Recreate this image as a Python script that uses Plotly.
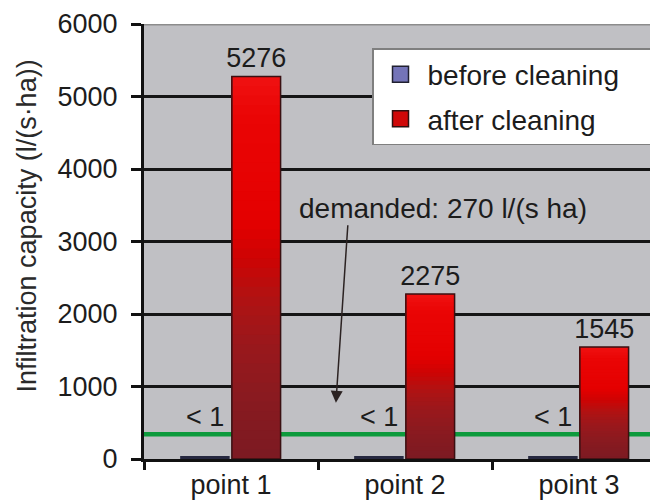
import plotly.graph_objects as go

# ---------------- data ----------------
categories = ["point 1", "point 2", "point 3"]
before_cleaning = [0.5, 0.5, 0.5]          # reported as "< 1"
before_labels = ["< 1", "< 1", "< 1"]
after_cleaning = [5276, 2275, 1545]
after_labels = ["5276", "2275", "1545"]
demand_line_value = 340                     # where the green line is drawn
demand_text = "demanded: 270 l/(s ha)"
y_tick_values = [0, 1000, 2000, 3000, 4000, 5000, 6000]
y_title = "Infiltration capacity (l/(s\u00b7ha))"
series_names = ["before cleaning", "after cleaning"]

# ---------------- style ----------------
FONT = "Liberation Sans, Arial, Helvetica, sans-serif"
TXT = "#1c1c1c"
BAR_W = 0.28
BLUE_OFF = -0.29
RED_OFF = 0.005
PAD = "\u00a0\u00a0\u00a0\u00a0"   # right padding inside legend box

# red gradient stops: fraction from top of bar -> colour
grad_stops = [
    (0.00, (240, 18, 18)),
    (0.10, (234, 5, 5)),
    (0.38, (228, 0, 0)),
    (0.48, (204, 4, 4)),
    (0.58, (176, 18, 18)),
    (0.70, (154, 24, 28)),
    (0.85, (136, 26, 32)),
    (1.00, (124, 26, 34)),
]


def grad_color(t):
    for (t0, c0), (t1, c1) in zip(grad_stops[:-1], grad_stops[1:]):
        if t0 <= t <= t1:
            f = (t - t0) / (t1 - t0) if t1 > t0 else 0
            c = [round(a + (b - a) * f) for a, b in zip(c0, c1)]
            return "rgb(%d,%d,%d)" % tuple(c)
    return "rgb(%d,%d,%d)" % grad_stops[-1][1]


fig = go.Figure()

# before cleaning bars (tiny)
fig.add_trace(go.Bar(
    x=categories, y=before_cleaning, name=series_names[0],
    offset=BLUE_OFF + 0.015, width=BAR_W - 0.03,
    marker=dict(color="#2a2c48", line=dict(color="#262840", width=6)),
    showlegend=False, hoverinfo="skip",
))

# after cleaning bars, drawn as stacked gradient layers
N = 40
for k in range(N):
    frac = k / N
    t_from_top = 1 - (k + 0.5) / N
    fig.add_trace(go.Bar(
        x=categories,
        base=[v * frac for v in after_cleaning],
        y=[v * (1 - frac) for v in after_cleaning],
        offset=RED_OFF, width=BAR_W,
        marker=dict(color=grad_color(t_from_top), line=dict(width=0)),
        showlegend=False, hoverinfo="skip",
    ))

# outline + value labels
fig.add_trace(go.Bar(
    x=categories, y=after_cleaning, name=series_names[1],
    offset=RED_OFF, width=BAR_W,
    marker=dict(color="rgba(0,0,0,0)", line=dict(color="#3a1012", width=1.5)),
    text=after_labels, textposition="outside", constraintext="none",
    textfont=dict(family=FONT, size=27, color=TXT),
    cliponaxis=False, showlegend=False, hoverinfo="skip",
))

# legend entries
fig.add_trace(go.Scatter(
    x=[None], y=[None], mode="markers", name=series_names[0] + PAD,
    legendgroup="a",
    marker=dict(symbol="square", size=16, color="#7474b8",
                line=dict(color="#202030", width=1.5)),
))
fig.add_trace(go.Scatter(
    x=[None], y=[None], mode="markers", name=series_names[1] + PAD,
    legendgroup="b",
    marker=dict(symbol="square", size=16, color="#d00808",
                line=dict(color="#301010", width=1.5)),
))

annotations = []
for i, (v, lab) in enumerate(zip(before_cleaning, before_labels)):
    annotations.append(dict(
        x=i + BLUE_OFF + BAR_W / 2, y=v, xref="x", yref="y",
        text=lab, showarrow=False, yanchor="bottom", xanchor="center",
        yshift=25, font=dict(family=FONT, size=27, color=TXT),
    ))

annotations.append(dict(
    x=0.379, y=3458, xref="x", yref="y", text=demand_text,
    showarrow=False, xanchor="left", yanchor="middle",
    font=dict(family=FONT, size=28, color=TXT),
))
annotations.append(dict(
    x=0.603, y=775, xref="x", yref="y", text="",
    showarrow=True, ax=12, ay=-179, axref="pixel", ayref="pixel",
    arrowhead=2, arrowsize=1.6, arrowwidth=1.5, arrowcolor="#2b2222",
    standoff=0,
))
annotations.append(dict(
    x=-0.2276, y=0.5346, xref="paper", yref="paper", text=y_title,
    textangle=-90, showarrow=False, xanchor="center", yanchor="middle",
    font=dict(family=FONT, size=27, color="#2a2a2a"),
))

shapes = [
    dict(type="line", xref="paper", x0=0, x1=1, yref="y",
         y0=demand_line_value, y1=demand_line_value,
         line=dict(color="#0d9a3c", width=4.5), layer="below"),
    dict(type="line", xref="paper", x0=0, x1=1, yref="y",
         y0=6000, y1=6000, line=dict(color="#8c8c8c", width=3), layer="above"),
]

# page body adds an 8px offset; figure size/margins compensate for it
fig.update_layout(
    width=650, height=492,
    margin=dict(l=136, r=0, t=16, b=34),
    paper_bgcolor="white", plot_bgcolor="#c0c0c4",
    barmode="overlay",
    font=dict(family=FONT, size=27, color=TXT),
    showlegend=True,
    legend=dict(
        x=0.4436, y=0.9447, xanchor="left", yanchor="top",
        bgcolor="white", bordercolor="#7f7f7f", borderwidth=1.5,
        font=dict(family=FONT, size=28, color=TXT),
        itemsizing="trace", itemwidth=44, tracegroupgap=5,
    ),
    annotations=annotations,
    shapes=shapes,
    xaxis=dict(
        type="category", categoryorder="array", categoryarray=categories,
        range=[-0.5, -0.5 + 514 / 174], autorange=False,
        tickson="boundaries", ticks="outside", ticklen=8, tickwidth=2.5,
        tickcolor="#111", showgrid=False, showline=True, linecolor="#111",
        linewidth=3, tickfont=dict(family=FONT, size=27, color=TXT),
        zeroline=False, fixedrange=True,
    ),
    yaxis=dict(
        range=[0, 6000], autorange=False, tickvals=y_tick_values,
        ticks="outside", ticklen=10, tickwidth=2.5, tickcolor="#111",
        showgrid=True, gridcolor="#151515", gridwidth=2.5,
        showline=True, linecolor="#111", linewidth=3, zeroline=False,
        tickfont=dict(family=FONT, size=27, color=TXT),
        ticklabelstandoff=8,
        fixedrange=True,
    ),
)

fig.write_html("out.html")
